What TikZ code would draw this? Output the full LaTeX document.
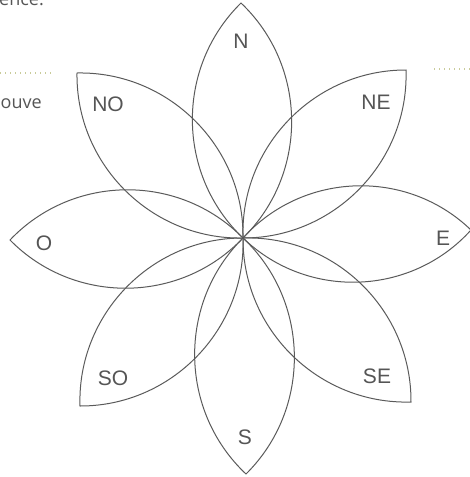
\documentclass[tikz,border=0pt]{standalone}
\usepackage{fontspec}
\setmainfont{Liberation Sans}
\newfontfamily\bodyfont{Open Sans}
\definecolor{petal}{HTML}{5A5A5A}
\definecolor{lab}{HTML}{555555}
\definecolor{dots}{HTML}{C9CB9A}
\begin{document}
\begin{tikzpicture}[x=1pt,y=-1pt,
  petalline/.style={draw=petal,line width=1pt},
  lbl/.style={text=lab,font=\fontsize{21}{21}\selectfont,inner sep=0pt},
  frag/.style={text=lab,font=\bodyfont\fontsize{18}{18}\selectfont,inner sep=0pt,anchor=base west},
  dotline/.style={draw=dots,line width=1.2pt,dash pattern=on 1.2pt off 3.8pt}]
\useasboundingbox (0,0) rectangle (470,477);
\clip (0,0) rectangle (470,477);
\coordinate (c) at (243,238);
\coordinate (tN) at (241,3);
\coordinate (tNE) at (406,70);
\coordinate (tE) at (471,230);
\coordinate (tSE) at (411,402);
\coordinate (tS) at (246,474);
\coordinate (tSO) at (80,406);
\coordinate (tO) at (10,240);
\coordinate (tNO) at (77,73);
\foreach \t in {tN,tNE,tE,tSE,tS,tSO,tO,tNO}{
  \draw[petalline] (c) to[bend left=46] (\t) to[bend left=46] (c);
}
\node[lbl] (lN) at (241,41) {N};
\node[lbl] (lNE) at (376,102) {NE};
\node[lbl] (lE) at (443,238) {E};
\node[lbl] (lSE) at (377,376) {SE};
\node[lbl] (lS) at (245,437) {S};
\node[lbl] (lSO) at (113,378) {SO};
\node[lbl] (lO) at (44,243) {O};
\node[lbl] (lNO) at (108,104) {NO};
\node[frag] (f1) at (-1,5) {ence.};
\node[frag] (f2) at (0.5,108) {ouve};
\coordinate (d1a) at (0,73);
\coordinate (d1b) at (54,73);
\coordinate (d2a) at (434,69);
\coordinate (d2b) at (472,69);
\draw[dotline] (d1a) -- (d1b);
\draw[dotline] (d2a) -- (d2b);
\end{tikzpicture}
\end{document}
